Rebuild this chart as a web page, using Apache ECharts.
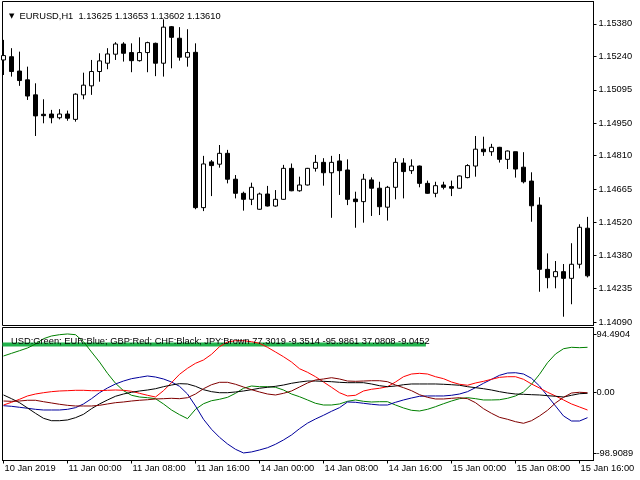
<!DOCTYPE html>
<html><head><meta charset="utf-8">
<script src="https://cdn.jsdelivr.net/npm/echarts@6/dist/echarts.min.js"></script>
<style>html,body{margin:0;padding:0;background:#fff}#c{width:640px;height:480px}</style>
</head><body><div id="c"></div>
<script>
// Trading sessions (H1 bars): [day, first hour, last hour]
const sessions = [['10 Jan', 16, 23], ['11 Jan', 0, 23], ['14 Jan', 0, 23], ['15 Jan', 0, 17]];
const xTickLabels = ['10 Jan 2019', '11 Jan 00:00', '11 Jan 08:00', '11 Jan 16:00', '14 Jan 00:00',
  '14 Jan 08:00', '14 Jan 16:00', '15 Jan 00:00', '15 Jan 08:00', '15 Jan 16:00'];

const openP = [1.15224,1.15238,1.15176,1.15138,1.15073,1.14989,1.14990,1.14974,1.14990,1.14967,
  1.15073,1.15112,1.15174,1.15210,1.15249,1.15293,1.15256,1.15221,1.15256,1.15296,
  1.15210,1.15368,1.15318,1.15236,1.15257,1.14585,1.14783,1.14773,1.14820,1.14708,
  1.14647,1.14621,1.14578,1.14644,1.14592,1.14621,1.14755,1.14658,1.14683,1.14755,
  1.14781,1.14736,1.14787,1.14748,1.14622,1.14611,1.14705,1.14669,1.14587,1.14673,
  1.14778,1.14745,1.14765,1.14690,1.14647,1.14683,1.14676,1.14669,1.14715,1.14765,
  1.14838,1.14827,1.14846,1.14794,1.14827,1.14760,1.14700,1.14596,1.14318,1.14286,
  1.14308,1.14279,1.14340,1.14496];
const highP = [1.15311,1.15275,1.15260,1.15195,1.15123,1.15054,1.15008,1.15011,1.15005,1.15080,
  1.15169,1.15224,1.15253,1.15275,1.15301,1.15301,1.15296,1.15322,1.15303,1.15299,
  1.15400,1.15371,1.15366,1.15357,1.15296,1.14809,1.14791,1.14856,1.14835,1.14726,
  1.14654,1.14693,1.14650,1.14679,1.14661,1.14770,1.14776,1.14719,1.14757,1.14813,
  1.14799,1.14809,1.14817,1.14794,1.14654,1.14731,1.14716,1.14697,1.14679,1.14799,
  1.14799,1.14794,1.14767,1.14702,1.14697,1.14697,1.14702,1.14724,1.14773,1.14895,
  1.14892,1.14861,1.14848,1.14832,1.14827,1.14825,1.14738,1.14630,1.14387,1.14354,
  1.14341,1.14431,1.14513,1.14545];
const lowP = [1.15159,1.15152,1.15112,1.15051,1.14895,1.14950,1.14950,1.14967,1.14961,1.14957,
  1.15054,1.15073,1.15130,1.15184,1.15224,1.15217,1.15171,1.15217,1.15171,1.15154,
  1.15152,1.15188,1.15221,1.15195,1.14578,1.14570,1.14635,1.14758,1.14690,1.14625,
  1.14572,1.14596,1.14576,1.14590,1.14589,1.14619,1.14656,1.14654,1.14681,1.14741,
  1.14680,1.14541,1.14640,1.14596,1.14498,1.14520,1.14549,1.14553,1.14529,1.14621,
  1.14625,1.14731,1.14673,1.14645,1.14630,1.14664,1.14635,1.14667,1.14712,1.14719,
  1.14809,1.14809,1.14780,1.14752,1.14715,1.14690,1.14524,1.14221,1.14236,1.14236,
  1.14113,1.14167,1.14322,1.14283];
const closeP = [1.15243,1.15174,1.15135,1.15068,1.14982,1.14983,1.14974,1.14990,1.14972,1.15076,
  1.15115,1.15174,1.15220,1.15250,1.15293,1.15253,1.15221,1.15256,1.15299,1.15210,
  1.15366,1.15322,1.15236,1.15256,1.14585,1.14774,1.14767,1.14820,1.14708,1.14647,
  1.14621,1.14673,1.14644,1.14592,1.14621,1.14755,1.14658,1.14683,1.14755,1.14781,
  1.14736,1.14781,1.14745,1.14621,1.14611,1.14708,1.14669,1.14589,1.14673,1.14781,
  1.14741,1.14765,1.14690,1.14647,1.14680,1.14673,1.14669,1.14722,1.14767,1.14838,
  1.14827,1.14846,1.14794,1.14830,1.14752,1.14697,1.14593,1.14318,1.14282,1.14308,
  1.14279,1.14340,1.14500,1.14290];

const usd = [58.7,63.0,67.3,71.7,78.2,86.8,91.2,93.3,94.49,93.3,
  81.9,65.2,48.9,30.5,14.3,2.3,-5.2,-8.0,-9.1,-10.7,
  -19.3,-29.1,-36.7,-43.2,-28.0,-18.9,-14.0,-11.7,-8.5,-2.0,
  6.2,9.9,8.8,8.8,7.8,3.4,-3.1,-7.5,-12.8,-18.2,
  -21.0,-21.0,-19.3,-15.0,-12.8,-15.0,-16.1,-15.6,-15.6,-21.0,
  -25.8,-29.6,-30.7,-28.0,-23.7,-18.9,-14.5,-10.7,-9.1,-10.7,
  -12.8,-12.8,-12.4,-10.1,-6.3,0.2,12.7,28.9,47.8,61.9,
  70.5,72.8,72.2,72.8];
const eur = [-22.1,-23.1,-24.7,-26.3,-28.0,-29.1,-29.1,-29.1,-28.0,-25.3,
  -19.3,-10.7,-1.0,6.7,13.2,18.0,21.8,24.0,26.2,24.5,
  21.3,16.4,9.4,-3.1,-22.6,-44.2,-60.5,-73.5,-84.3,-93.0,
  -98.91,-97.3,-94.1,-90.4,-84.8,-77.8,-69.7,-59.5,-50.5,-43.7,
  -37.7,-31.2,-25.3,-16.1,-16.6,-18.2,-19.8,-21.0,-21.0,-16.6,
  -12.8,-9.6,-6.8,-6.3,-6.3,-6.3,-5.2,-3.1,0.7,7.2,
  14.3,20.8,27.3,31.0,31.5,29.4,22.4,9.9,-6.3,-22.6,
  -38.8,-47.0,-47.0,-41.6];
const gbp = [-21.0,-16.6,-11.7,-6.3,-3.1,-1.0,0.7,1.8,2.3,2.9,
  2.9,2.3,2.3,2.9,3.4,2.9,1.3,-2.0,-5.2,-8.0,
  2.3,15.3,28.9,38.7,46.8,52.2,61.4,73.8,81.4,83.5,
  83.5,81.9,79.3,72.8,65.2,57.5,48.9,38.0,32.2,25.0,
  16.4,7.8,-1.0,-6.3,-5.2,1.8,4.6,6.2,8.8,16.4,
  25.0,29.4,30.5,29.4,25.0,21.8,16.4,12.7,11.1,14.8,
  17.5,20.8,24.0,25.0,25.0,20.8,13.2,6.7,-0.3,-6.3,
  -12.8,-19.3,-24.2,-29.1];
const chf = [-4.7,-10.7,-17.2,-25.8,-34.5,-42.6,-46.5,-46.5,-45.3,-41.6,
  -36.1,-27.0,-19.3,-12.8,-6.8,-3.1,-0.3,1.8,3.4,5.5,
  8.8,11.5,13.7,13.2,9.4,3.9,0.7,-1.0,-1.0,0.2,
  1.8,3.9,6.2,7.8,9.4,11.5,14.3,16.4,18.0,18.0,
  17.5,16.9,15.9,15.3,15.3,15.3,13.2,10.4,8.8,9.9,
  12.0,13.2,13.2,13.2,13.2,12.7,12.0,11.1,8.8,7.2,
  5.5,3.4,0.7,-1.5,-3.1,-3.6,-4.2,-4.7,-5.8,-6.8,
  -8.0,-5.2,-2.6,-2.0];
const jpy = [-14.5,-15.0,-14.5,-13.3,-13.3,-15.6,-17.7,-19.8,-21.5,-22.6,
  -22.6,-22.6,-21.5,-19.3,-17.2,-16.1,-14.5,-13.3,-12.4,-11.2,
  -10.7,-10.1,-10.7,-9.1,-3.1,5.5,12.0,15.9,15.9,12.7,
  8.3,3.9,0.2,-3.1,-4.7,-2.0,1.8,8.3,14.8,19.7,
  21.3,23.4,21.3,18.0,17.5,18.0,18.5,18.5,16.9,11.5,
  7.2,2.3,-4.2,-8.5,-11.2,-11.2,-10.1,-9.1,-10.7,-17.2,
  -27.0,-34.5,-41.0,-44.2,-48.1,-50.7,-46.5,-38.8,-29.6,-17.7,
  -8.5,-1.5,-0.3,-1.0];

const currencies = ['USD', 'EUR', 'GBP', 'CHF', 'JPY'];
const colorNames = ['Green', 'Blue', 'Red', 'Black', 'Brown'];
const lastValues = ['77.3019', '-9.3514', '-95.9861', '37.0808', '-9.0452'];
const usdLevel = 77.3019;
const usdLevelEndBar = 52.8;

const priceTicks = [1.15380, 1.15240, 1.15095, 1.14950, 1.14810, 1.14665, 1.14520, 1.14380, 1.14235, 1.14090];
const oscTicks = [94.4904, 0, -98.9089];
const oscTickLabels = ['94.4904', '0.00', '-98.9089'];
const titleText = 'EURUSD,H1  1.13625 1.13653 1.13602 1.13610';

// ---- build ----
const barHours = [];
sessions.forEach(s => { for (let h = s[1]; h <= s[2]; h++) barHours.push(h); });
const tickBars = barHours.map((h, i) => (h % 8 === 0 ? i : -1)).filter(i => i >= 0);
const xMin = -0.125, xMax = barHours.length - 0.25;

const FONT = "'Liberation Sans', Arial, sans-serif";
const FS = 9.3;
const candles = openP.map((o, i) => [i, o, closeP[i], lowP[i], highP[i]]);
const pts = arr => arr.map((v, i) => [i, v]);
const legendText = currencies.map((c, i) => c + ':' + colorNames[i]).join('; ') + ' ' + lastValues.join(' ');

const lineColors = ['#008000', '#00009c', '#ff0000', '#000000', '#800000'];
const oscData = [usd, eur, gbp, chf, jpy];

const chart = echarts.init(document.getElementById('c'), null, {renderer: 'canvas'});
chart.setOption({
  animation: false,
  backgroundColor: '#ffffff',
  title: [
    {text: '{t|\u25BC}  ' + titleText, left: 4, top: 5,
     textStyle: {fontFamily: FONT, fontSize: FS, fontWeight: 'normal', color: '#000', lineHeight: 12,
       rich: {t: {fontSize: 7, color: '#000', fontFamily: 'DejaVu Sans'}}}},
    {text: legendText, left: 6, top: 330,
     textStyle: {fontFamily: FONT, fontSize: FS, fontWeight: 'normal', color: '#000', lineHeight: 12}}
  ],
  grid: [
    {left: 2.5, top: 1.5, width: 591, height: 324, show: true, borderColor: '#000', borderWidth: 1, backgroundColor: 'transparent'},
    {left: 2.5, top: 327.5, width: 591, height: 133, show: true, borderColor: '#000', borderWidth: 1, backgroundColor: 'transparent'}
  ],
  xAxis: [
    {gridIndex: 0, type: 'value', min: xMin, max: xMax, show: false},
    {gridIndex: 1, type: 'value', min: xMin, max: xMax, position: 'bottom',
     axisLine: {show: true, onZero: false, lineStyle: {color: '#000'}}, splitLine: {show: false},
     axisTick: {show: true, customValues: tickBars, length: 3, lineStyle: {color: '#000'}},
     axisLabel: {customValues: tickBars, formatter: v => xTickLabels[tickBars.indexOf(v)] || '',
       align: 'left', margin: 3, fontFamily: FONT, fontSize: FS, color: '#000', padding: [0, 0, 0, 1]}}
  ],
  yAxis: [
    {gridIndex: 0, type: 'value', position: 'right', min: 1.14075, max: 1.15477, scale: true,
     axisLine: {show: true, onZero: false, lineStyle: {color: '#000'}}, splitLine: {show: false},
     axisTick: {show: true, customValues: priceTicks, length: 3, lineStyle: {color: '#000'}},
     axisLabel: {customValues: priceTicks, formatter: v => v.toFixed(5), margin: 5,
       fontFamily: FONT, fontSize: FS, color: '#000'}},
    {gridIndex: 1, type: 'value', position: 'right', min: -111.2, max: 105.0,
     axisLine: {show: true, onZero: false, lineStyle: {color: '#000'}}, splitLine: {show: false},
     axisTick: {show: true, customValues: oscTicks, length: 3, lineStyle: {color: '#000'}},
     axisLabel: {customValues: oscTicks, formatter: v => oscTickLabels[oscTicks.indexOf(v)] || '', margin: 3,
       fontFamily: FONT, fontSize: FS, color: '#000'}}
  ],
  series: [
    {type: 'candlestick', xAxisIndex: 0, yAxisIndex: 0, data: candles, barWidth: 4,
     itemStyle: {color: '#ffffff', color0: '#000000', borderColor: '#000000', borderColor0: '#000000', borderWidth: 1}},
    {type: 'line', xAxisIndex: 1, yAxisIndex: 1, data: [[xMin, usdLevel], [usdLevelEndBar, usdLevel]],
     showSymbol: false, lineStyle: {width: 4, color: '#22b24c'}, z: 1}
  ].concat(oscData.map((arr, k) => ({
    type: 'line', name: currencies[k], xAxisIndex: 1, yAxisIndex: 1, data: pts(arr),
    showSymbol: false, lineStyle: {width: 1, color: lineColors[k]}, z: 2
  })))
});
</script>
</body></html>
